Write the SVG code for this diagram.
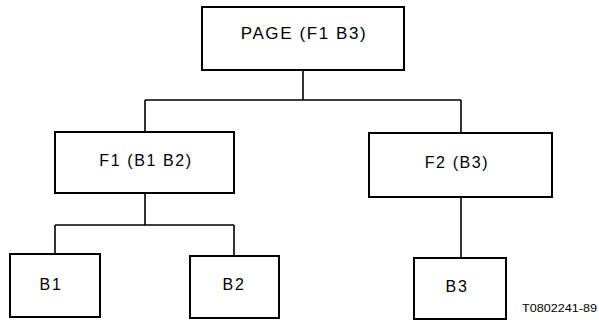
<svg xmlns="http://www.w3.org/2000/svg" width="599" height="329" viewBox="0 0 599 329">
<style>
.box{fill:#fff;stroke:#000;stroke-width:2}
.con{fill:none;stroke:#000;stroke-width:1.6}
.lbl{font-family:"Liberation Sans",Arial,sans-serif;font-size:16px;letter-spacing:1.6px;text-anchor:middle;fill:#000}
.note{font-family:"Liberation Sans",Arial,sans-serif;font-size:11px;fill:#000}
</style>
<rect width="599" height="329" fill="#fff"/>
<g id="connectors">
<path class="con" d="M303 70V100M145 100H461M145 100V132M461 100V133"/>
<path class="con" d="M145 193V225M55 225H234M55 225V254M234 225V256"/>
<path class="con" d="M461 197V258"/>
</g>
<g id="page"><rect class="box" x="202" y="7" width="202" height="63"/><text class="lbl" x="304" y="39" style="font-size:17px">PAGE (F1 B3)</text></g>
<g id="f1"><rect class="box" x="55" y="132" width="179" height="61"/><text class="lbl" x="146" y="166">F1 (B1 B2)</text></g>
<g id="f2"><rect class="box" x="369" y="133" width="183" height="64"/><text class="lbl" x="457" y="168">F2 (B3)</text></g>
<g id="b1"><rect class="box" x="10" y="254" width="90" height="63"/><text class="lbl" x="51" y="290">B1</text></g>
<g id="b2"><rect class="box" x="190" y="256" width="89" height="62"/><text class="lbl" x="234" y="290">B2</text></g>
<g id="b3"><rect class="box" x="414" y="258" width="92" height="61"/><text class="lbl" x="457" y="292">B3</text></g>
<text class="note" x="522" y="312" textLength="75" lengthAdjust="spacingAndGlyphs">T0802241-89</text>
</svg>
